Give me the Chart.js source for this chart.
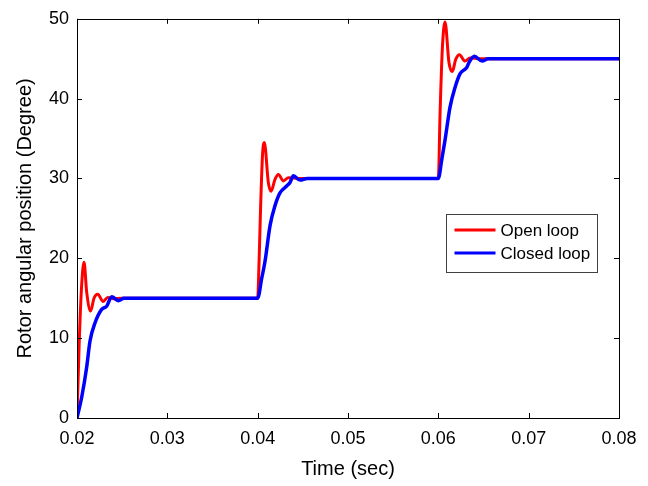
<!DOCTYPE html>
<html>
<head>
<meta charset="utf-8">
<script src="https://cdn.jsdelivr.net/npm/chart.js@4"></script>
<style>
  html, body { margin: 0; padding: 0; background: #fff; }
  #wrap { width: 648px; height: 486px; }
</style>
</head>
<body>
<div id="wrap"><canvas id="chart" width="648" height="486"></canvas></div>
<script>
// values
const openTime = [0.02, 0.02025, 0.02052, 0.02078, 0.02107, 0.02151, 0.02188, 0.02229, 0.0229, 0.0234, 0.0240, 0.0250,
  0.0400, 0.04007, 0.04033, 0.04055, 0.04074, 0.04118, 0.04148, 0.04192, 0.04229, 0.04284, 0.0434, 0.0445,
  0.0600, 0.06019, 0.06045, 0.06074, 0.06118, 0.06155, 0.06192, 0.06233, 0.06296, 0.0635, 0.0645, 0.0800];
const openDeg = [0, 9.6, 16.7, 19.5, 15.8, 13.4, 15.0, 15.5, 14.6, 15.1, 14.95, 15,
  15, 16.3, 26.6, 33.2, 34.5, 29.5, 28.4, 29.9, 30.5, 29.7, 30.1, 30,
  30, 38.1, 46.4, 49.6, 44.5, 43.4, 44.9, 45.5, 44.7, 45.1, 45, 45];

const closedTime = [0.02, 0.02052, 0.02107, 0.02144, 0.02199, 0.02273, 0.02329, 0.02384, 0.02457, 0.0252,
  0.0400, 0.04045, 0.04081, 0.04137, 0.04192, 0.04247, 0.04321, 0.04358, 0.04395, 0.04469, 0.0455,
  0.0600, 0.06037, 0.06074, 0.06129, 0.06185, 0.0624, 0.06314, 0.06343, 0.06399, 0.06485, 0.0655, 0.0800];
const closedDeg = [0, 2.6, 6.35, 9.65, 11.9, 13.6, 14.0, 15.2, 14.7, 15.0,
  15, 17.5, 19.6, 24.1, 26.6, 28.2, 29.05, 29.5, 30.35, 29.8, 30.0,
  30, 32.3, 34.8, 38.9, 41.4, 43.1, 43.9, 44.6, 45.3, 44.7, 45, 45];

const xTicks = [0.02, 0.03, 0.04, 0.05, 0.06, 0.07, 0.08];
const yTicks = [0, 10, 20, 30, 40, 50];
const seriesNames = ['Open loop', 'Closed loop'];
const seriesColors = ['#ff0000', '#0000ff'];

const toPoints = (ts, vs) => ts.map((t, i) => ({ x: t, y: vs[i] }));

// box around the plot with inward ticks on all four sides
const boxPlugin = {
  id: 'box',
  afterDraw(chart) {
    const { ctx, chartArea: a, scales } = chart;
    ctx.save();
    ctx.strokeStyle = '#000';
    ctx.lineWidth = 1;
    ctx.beginPath();
    xTicks.forEach((v) => {
      const px = Math.round(scales.x.getPixelForValue(v)) + 0.5;
      ctx.moveTo(px, a.bottom); ctx.lineTo(px, a.bottom - 5);
      ctx.moveTo(px, a.top); ctx.lineTo(px, a.top + 5);
    });
    yTicks.forEach((v) => {
      const py = Math.round(scales.y.getPixelForValue(v)) + 0.5;
      ctx.moveTo(a.left, py); ctx.lineTo(a.left + 5, py);
      ctx.moveTo(a.right, py); ctx.lineTo(a.right - 5, py);
    });
    ctx.stroke();
    ctx.strokeRect(Math.round(a.left) + 0.5, Math.round(a.top) + 0.5,
      Math.round(a.right - a.left), Math.round(a.bottom - a.top));

    // legend inside the axes
    const lx = 446.5, ly = 214.5, lw = 151, lh = 58;
    ctx.fillStyle = '#fff';
    ctx.fillRect(lx, ly, lw, lh);
    ctx.strokeStyle = '#404040';
    ctx.strokeRect(lx, ly, lw, lh);
    ctx.font = '17px "Liberation Sans", Arial, sans-serif';
    ctx.textBaseline = 'middle';
    ctx.textAlign = 'left';
    seriesNames.forEach((name, i) => {
      const y = ly + 15.5 + i * 23;
      ctx.strokeStyle = seriesColors[i];
      ctx.lineWidth = 3;
      ctx.beginPath();
      ctx.moveTo(lx + 8, y); ctx.lineTo(lx + 49, y);
      ctx.stroke();
      ctx.fillStyle = '#000';
      ctx.fillText(name, lx + 54, y + 1);
    });
    ctx.restore();
  }
};

const tickFont = { family: '"Liberation Sans", Arial, sans-serif', size: 18 };
const titleFont = { family: '"Liberation Sans", Arial, sans-serif', size: 20 };

new Chart(document.getElementById('chart'), {
  type: 'line',
  data: {
    datasets: [
      {
        label: seriesNames[1],
        data: toPoints(closedTime, closedDeg),
        borderColor: seriesColors[1],
        borderWidth: 3.5,
        pointRadius: 0,
        cubicInterpolationMode: 'monotone',
        fill: false
      },
      {
        label: seriesNames[0],
        data: toPoints(openTime, openDeg),
        borderColor: seriesColors[0],
        borderWidth: 3,
        pointRadius: 0,
        cubicInterpolationMode: 'monotone',
        fill: false
      }
    ]
  },
  options: {
    responsive: false,
    animation: false,
    layout: { padding: { top: 14, right: 29, left: 0, bottom: 0 } },
    plugins: {
      legend: { display: false },
      tooltip: { enabled: false }
    },
    scales: {
      x: {
        type: 'linear',
        min: 0.02,
        max: 0.08,
        afterBuildTicks: (s) => { s.ticks = xTicks.map((v) => ({ value: v })); },
        afterFit: (s) => { s.height = 68; },
        grid: { display: false, drawTicks: false },
        border: { display: false },
        ticks: {
          color: '#000',
          font: tickFont,
          padding: 10,
          maxRotation: 0,
          callback: (v) => v.toFixed(2)
        },
        title: { display: true, text: 'Time (sec)', color: '#000', font: titleFont, padding: { top: 0, bottom: 5 } }
      },
      y: {
        min: 0,
        max: 50,
        afterBuildTicks: (s) => { s.ticks = yTicks.map((v) => ({ value: v })); },
        afterFit: (s) => { s.width = 77; },
        grid: { display: false, drawTicks: false },
        border: { display: false },
        ticks: { color: '#000', font: tickFont, padding: 8 },
        title: { display: true, text: 'Rotor angular position (Degree)', color: '#000', font: titleFont, padding: { top: 13, bottom: 0 } }
      }
    }
  },
  plugins: [boxPlugin]
});
</script>
</body>
</html>
